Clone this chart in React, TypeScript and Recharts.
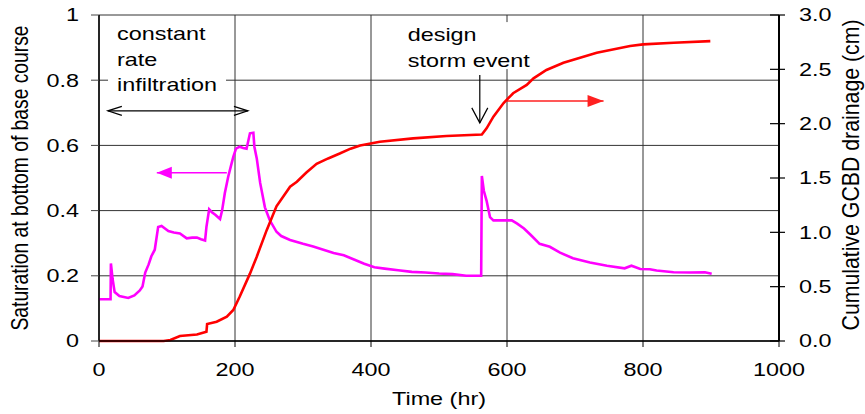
import { LineChart, Line, XAxis, YAxis, CartesianGrid, ReferenceLine, ReferenceDot } from "recharts"

// saturation at bottom of base course (left axis)
const satHours = [
  0, 17, 17.5, 20, 23, 30, 43, 52, 60, 64, 68, 73, 77, 82, 87, 92, 97, 102, 110, 119,
  129, 137, 144, 150, 156, 158, 162, 166, 171, 178, 181, 185, 190, 195, 197.5, 201.5, 207, 212, 217, 222,
  227, 228.5, 232, 237, 244, 251, 261, 268, 281, 300, 315, 330, 345, 360, 375, 390, 405, 420, 440, 460,
  480, 500, 520, 540, 562, 563, 566, 570, 575, 580, 590, 600, 607, 615, 625, 635, 648, 663, 678, 697,
  722, 747, 773, 783, 796, 810, 820, 845, 869, 891, 901,
]
const satValues = [
  0.128, 0.128, 0.238, 0.19, 0.15, 0.138, 0.132, 0.14, 0.155, 0.167, 0.21, 0.235, 0.26, 0.28, 0.35, 0.353, 0.345, 0.337, 0.333, 0.33,
  0.315, 0.317, 0.317, 0.312, 0.308, 0.35, 0.404, 0.395, 0.387, 0.374, 0.4, 0.453, 0.504, 0.545, 0.565, 0.59, 0.596, 0.592, 0.59, 0.637,
  0.639, 0.596, 0.56, 0.485, 0.41, 0.371, 0.335, 0.322, 0.31, 0.298, 0.29, 0.28, 0.27, 0.263, 0.25, 0.237, 0.226, 0.222, 0.217, 0.212,
  0.21, 0.207, 0.205, 0.2, 0.2, 0.506, 0.46, 0.43, 0.38, 0.37, 0.37, 0.37, 0.37, 0.36, 0.345, 0.325, 0.298, 0.289, 0.271, 0.254,
  0.241, 0.231, 0.223, 0.231, 0.221, 0.22, 0.216, 0.211, 0.21, 0.211, 0.206,
]

// cumulative GCBD drainage, cm (right axis)
const drainHours = [
  0, 95, 105, 119, 144, 158, 159, 173, 188, 197.5, 207, 222, 232, 246.6, 261, 281, 291, 305, 320, 337,
  354, 370, 384, 413, 462, 511, 563, 570, 580, 595, 609, 629, 639, 658, 683, 732, 781, 800, 845, 899,
]
const drainValues = [
  0, 0, 0.01, 0.046, 0.06, 0.085, 0.156, 0.178, 0.224, 0.285, 0.41, 0.62, 0.776, 1.02, 1.24, 1.42, 1.466, 1.55, 1.63, 1.68,
  1.725, 1.77, 1.8, 1.834, 1.865, 1.887, 1.9, 1.957, 2.064, 2.19, 2.28, 2.356, 2.417, 2.494, 2.56, 2.653, 2.715, 2.73, 2.745, 2.76,
]

const timeTicks = [0, 200, 400, 600, 800, 1000]
const satTicks = [0, 0.2, 0.4, 0.6, 0.8, 1]
const drainTicks = [0, 0.5, 1, 1.5, 2, 2.5, 3]

const infiltrationNote = ["constant", "rate", "infiltration"]
const stormNote = ["design", "storm event"]

const satData = satHours.map((t, i) => ({ t, v: satValues[i] }))
const drainData = drainHours.map((t, i) => ({ t, v: drainValues[i] }))

const FONT = "'Liberation Sans', Arial, sans-serif"
const STRETCH = 1.3

function LeftTick({ x, y, payload }: any) {
  return (
    <g transform={`translate(${x},${y})`}>
      <text transform={`scale(${STRETCH},1)`} textAnchor="end" dy="0.36em" fontSize={18} fontFamily={FONT} fill="#000">
        {String(payload.value)}
      </text>
    </g>
  )
}

function RightTick({ x, y, payload }: any) {
  return (
    <g>
      <line x1={x - 29} y1={y} x2={x - 14} y2={y} stroke="#000" strokeWidth={1.2} />
      <g transform={`translate(${x},${y})`}>
        <text transform={`scale(${STRETCH},1)`} textAnchor="start" dy="0.36em" fontSize={18} fontFamily={FONT} fill="#000">
          {payload.value.toFixed(1)}
        </text>
      </g>
    </g>
  )
}

function BottomTick({ x, y, payload }: any) {
  return (
    <g transform={`translate(${x},${y})`}>
      <text transform={`scale(${STRETCH},1)`} textAnchor="middle" dy="0.71em" fontSize={18} fontFamily={FONT} fill="#000">
        {String(payload.value)}
      </text>
    </g>
  )
}

function VerticalTitle({ cx, cy, text, length }: any) {
  return (
    <text
      transform={`translate(${cx},${cy}) rotate(-90) scale(1,${STRETCH})`}
      textAnchor="middle"
      dy="0.36em"
      fontSize={18}
      fontFamily={FONT}
      fill="#000"
      textLength={length}
      lengthAdjust="spacingAndGlyphs"
    >
      {text}
    </text>
  )
}

function makeArrow(color: string, o: { width: number; len: number; half: number; filled: boolean; start?: boolean }) {
  return function ArrowShape(p: any) {
    const { x1, y1, x2, y2 } = p
    const dx = x2 - x1
    const dy = y2 - y1
    const d = Math.hypot(dx, dy) || 1
    const ux = dx / d
    const uy = dy / d
    const head = (tx: number, ty: number, ax: number, ay: number) => {
      const bx = tx - ax * o.len
      const by = ty - ay * o.len
      const px = -ay * o.half
      const py = ax * o.half
      if (o.filled) {
        return <polygon points={`${tx},${ty} ${bx + px},${by + py} ${bx - px},${by - py}`} fill={color} />
      }
      return (
        <polyline
          points={`${bx + px},${by + py} ${tx},${ty} ${bx - px},${by - py}`}
          fill="none"
          stroke={color}
          strokeWidth={o.width}
        />
      )
    }
    return (
      <g>
        <line x1={x1} y1={y1} x2={x2} y2={y2} stroke={color} strokeWidth={o.width} />
        {head(x2, y2, ux, uy)}
        {o.start && head(x1, y1, -ux, -uy)}
      </g>
    )
  }
}

function noteShape(lines: string[], box: { left: number; top: number; width: number; height: number }) {
  return function Note(p: any) {
    const { cx, cy } = p
    return (
      <g>
        <rect x={cx + box.left} y={cy + box.top} width={box.width} height={box.height} fill="#fff" />
        {lines.map((s, i) => (
          <text
            key={s}
            transform={`translate(${cx},${cy + i * 25.5}) scale(${STRETCH},1)`}
            fontSize={18}
            fontFamily={FONT}
            fill="#000"
          >
            {s}
          </text>
        ))}
      </g>
    )
  }
}

export default function App() {
  return (
    <div style={{ width: 865, height: 414, background: "#fff" }}>
      <style>{"body{margin:0}"}</style>
      <LineChart width={865} height={414} margin={{ top: 15, right: 0, bottom: 0, left: 0 }}>
        <CartesianGrid yAxisId="left" stroke="#333" strokeWidth={1} />
        <XAxis
          dataKey="t"
          type="number"
          domain={[0, 1000]}
          ticks={timeTicks}
          height={73}
          tickSize={6}
          tickMargin={16}
          tick={BottomTick}
          axisLine={{ stroke: "#000", strokeWidth: 1.5 }}
          tickLine={{ stroke: "#000" }}
          label={(p: any) => (
            <text
              transform={`translate(${p.viewBox.x + p.viewBox.width / 2},${p.viewBox.y + 64}) scale(${STRETCH},1)`}
              textAnchor="middle"
              fontSize={18}
              fontFamily={FONT}
              fill="#000"
            >
              Time (hr)
            </text>
          )}
        />
        <YAxis
          yAxisId="left"
          type="number"
          domain={[0, 1]}
          ticks={satTicks}
          width={99}
          tickSize={8}
          tickMargin={12}
          tick={LeftTick}
          axisLine={{ stroke: "#000", strokeWidth: 1.5 }}
          tickLine={{ stroke: "#444" }}
          label={(p: any) => (
            <VerticalTitle
              cx={p.viewBox.x + 20}
              cy={p.viewBox.y + 163}
              text="Saturation at bottom of base course"
              length={305}
            />
          )}
        />
        <YAxis
          yAxisId="right"
          orientation="right"
          type="number"
          domain={[0, 3]}
          ticks={drainTicks}
          width={86}
          tickSize={6}
          tickMargin={14}
          tick={RightTick}
          tickLine={false}
          axisLine={{ stroke: "#000", strokeWidth: 2 }}
          label={(p: any) => (
            <VerticalTitle
              cx={p.viewBox.x + 72}
              cy={p.viewBox.y + 160}
              text="Cumulative GCBD drainage (cm)"
              length={311}
            />
          )}
        />
        <ReferenceDot
          yAxisId="left"
          x={26.5}
          y={0.923}
          r={1}
          shape={noteShape(infiltrationNote, { left: -9, top: -19, width: 118, height: 75 })}
        />
        <ReferenceDot
          yAxisId="left"
          x={454}
          y={0.92}
          r={1}
          shape={noteShape(stormNote, { left: -6, top: -19, width: 133, height: 47 })}
        />
        <ReferenceLine
          yAxisId="left"
          segment={[{ x: 13, y: 0.706 }, { x: 219, y: 0.706 }]}
          shape={makeArrow("#000", { width: 1.2, len: 14, half: 4.5, filled: false, start: true })}
        />
        <ReferenceLine
          yAxisId="left"
          segment={[{ x: 188, y: 0.516 }, { x: 85, y: 0.516 }]}
          shape={makeArrow("#ff00ff", { width: 1.6, len: 15, half: 6, filled: true })}
        />
        <ReferenceLine
          yAxisId="left"
          segment={[{ x: 560, y: 0.816 }, { x: 560, y: 0.669 }]}
          shape={makeArrow("#000", { width: 1.2, len: 15, half: 8, filled: false })}
        />
        <ReferenceLine
          yAxisId="left"
          segment={[{ x: 600, y: 0.736 }, { x: 742, y: 0.736 }]}
          shape={makeArrow("#ff2020", { width: 1.5, len: 16, half: 6, filled: true })}
        />
        <Line
          yAxisId="left"
          data={satData}
          dataKey="v"
          type="linear"
          stroke="#ff00ff"
          strokeWidth={2.6}
          dot={false}
          isAnimationActive={false}
        />
        <Line
          yAxisId="right"
          data={drainData}
          dataKey="v"
          type="linear"
          stroke="#ff0000"
          strokeWidth={2.6}
          dot={false}
          isAnimationActive={false}
        />
      </LineChart>
    </div>
  )
}
